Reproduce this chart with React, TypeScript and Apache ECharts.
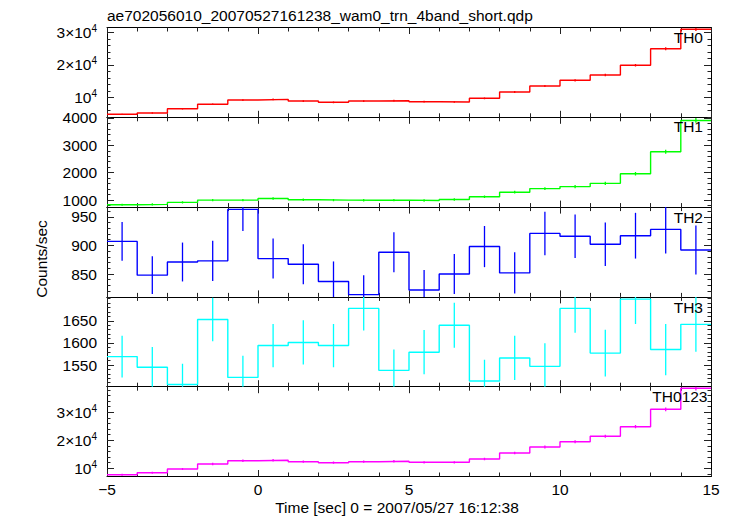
import React, { useEffect, useRef } from "react";
import * as echarts from "echarts";

// ---- data ----
const BIN_START = [-5, -4, -3, -2, -1, 0, 1, 2, 3, 4, 5, 6, 7, 8, 9, 10, 11, 12, 13, 14];
const BIN_END = 15;

const TH0 = [4770, 5170, 6490, 7850, 9170, 9380, 8860, 8460, 8860, 8950, 8650, 8550, 9690, 11630, 13480, 15230, 16860, 19850, 24950, 30920];
const TH0_ERR = [200, 210, 230, 250, 270, 270, 265, 260, 265, 265, 260, 260, 280, 300, 320, 340, 360, 390, 440, 490];
const TH1 = [831, 845, 917, 1000, 1000, 1060, 1012, 1000, 995, 1000, 988, 1024, 1120, 1288, 1420, 1492, 1612, 1960, 2764, 3905];
const TH1_ERR = [40, 40, 42, 44, 44, 45, 44, 44, 44, 44, 44, 45, 47, 50, 53, 55, 57, 62, 73, 88];
const TH2 = [907, 848, 871, 873, 963, 877, 867, 837, 814, 888, 822, 850, 898, 852, 921, 916, 902, 917, 928, 892];
const TH2_ERR = [34, 33, 34, 35, 38, 35, 35, 35, 34, 35, 35, 35, 36, 36, 38, 38, 38, 40, 42, 43];
const TH3 = [1569, 1545, 1506, 1653, 1522, 1594, 1601, 1594, 1678, 1538, 1579, 1640, 1514, 1566, 1547, 1678, 1577, 1699, 1585, 1642];
const TH3_ERR = [47, 46, 47, 49, 49, 49, 50, 49, 50, 47, 50, 51, 48, 50, 52, 55, 53, 56, 58, 62];
const TH0123 = [7710, 8430, 9750, 11540, 12710, 12860, 12360, 12000, 12360, 12500, 12140, 12140, 13320, 15460, 17600, 19500, 21430, 24860, 31070, 38570];
const TH0123_ERR = [350, 360, 380, 410, 430, 430, 420, 420, 420, 425, 420, 420, 440, 470, 500, 530, 560, 600, 680, 760];

const PANEL_NAMES = ["TH0", "TH1", "TH2", "TH3", "TH0123"];
const Y_RANGES = [
  [3850, 31480],
  [745, 4020],
  [810, 967],
  [1501, 1704],
  [7070, 39140],
];
const Y_MAJOR = [
  [10000, 20000, 30000],
  [1000, 2000, 3000, 4000],
  [850, 900, 950],
  [1550, 1600, 1650],
  [10000, 20000, 30000],
];
const Y_MINOR_STEP = [2000, 200, 10, 10, 2000];

const TITLE = "ae702056010_20070527161238_wam0_trn_4band_short.qdp";
const X_TITLE = "Time [sec] 0 = 2007/05/27 16:12:38";
const Y_TITLE = "Counts/sec";

const COLORS = ["#ff0000", "#00ff00", "#0000ff", "#00ffff", "#ff00ff"];
const VALUES = [TH0, TH1, TH2, TH3, TH0123];
const ERRORS = [TH0_ERR, TH1_ERR, TH2_ERR, TH3_ERR, TH0123_ERR];

// ---- layout ----
const LEFT = 107;
const RIGHT_X = 711;
const W = 733;
const H = 516;
const TOPS = [27.5, 117.3, 207.1, 296.9, 386.7];
const PH = 89.8;
const FONT = "'Liberation Sans', Arial, Helvetica, sans-serif";
const FS = 15.5;
const LABEL_Y = [37, 126.7, 217, 307.5, 396.7];
const LABEL_RX = [703, 703, 703, 703, 707.5];

function minorTicks(i: number): number[] {
  const [mn, mx] = Y_RANGES[i];
  const step = Y_MINOR_STEP[i];
  const out: number[] = [];
  for (let v = Math.ceil(mn / step) * step; v <= mx; v += step) {
    if (!Y_MAJOR[i].some((m) => Math.abs(m - v) < 1e-6)) out.push(v);
  }
  return out;
}

function sciFormatter(v: number): string {
  const m = Math.round(v / 10000);
  if (m === 1) return "{a|10}{b|4}";
  return "{a|" + m + "×10}{b|4}";
}

export default function App() {
  const ref = useRef<HTMLDivElement>(null);
  useEffect(() => {
    if (!ref.current) return;
    const chart = echarts.init(ref.current, undefined, { renderer: "svg" });

    const grids: any[] = [];
    const xAxes: any[] = [];
    const yAxes: any[] = [];
    const series: any[] = [];

    for (let i = 0; i < 5; i++) {
      grids.push({ left: LEFT, width: RIGHT_X - LEFT, top: TOPS[i], height: PH, containLabel: false });
      const isLast = i === 4;
      const xBase = {
        type: "value",
        gridIndex: i,
        min: -5,
        max: 15,
        interval: 5,
        splitLine: { show: false },
        axisLine: { show: true, onZero: false, lineStyle: { color: "#000", width: 1 } },
        axisTick: { show: true, inside: true, length: 6.5, lineStyle: { color: "#222", width: 1 } },
        minorTick: { show: true, splitNumber: 5, length: 4, lineStyle: { color: "#222", width: 1 } },
      };
      xAxes.push({
        ...xBase,
        position: "bottom",
        axisLabel: {
          show: isLast,
          color: "#000",
          fontFamily: FONT,
          fontSize: FS,
          margin: 5,
          showMinLabel: true,
          showMaxLabel: true,
          formatter: (v: number) => (v < 0 ? "\u2212" + Math.abs(v) : String(v)),
        },
      });
      xAxes.push({ ...xBase, position: "top", axisLabel: { show: false } });

      const [mn, mx] = Y_RANGES[i];
      const useSci = i === 0 || i === 4;
      const majors = Y_MAJOR[i];
      const minors = minorTicks(i);
      const yBase = {
        type: "value",
        gridIndex: i,
        min: mn,
        max: mx,
        splitLine: { show: false },
      };
      yAxes.push({
        ...yBase,
        position: "left",
        axisLine: { show: true, onZero: false, lineStyle: { color: "#000", width: 1 } },
        axisTick: { show: true, inside: true, length: 7, customValues: majors, lineStyle: { color: "#222", width: 1 } },
        axisLabel: {
          show: true,
          customValues: majors,
          color: "#000",
          fontFamily: FONT,
          fontSize: FS,
          margin: 10,
          formatter: useSci ? sciFormatter : (v: number) => String(v),
          rich: {
            a: { fontFamily: FONT, fontSize: FS, color: "#000", lineHeight: 18, verticalAlign: "middle" },
            b: { fontFamily: FONT, fontSize: 10, color: "#000", lineHeight: 18, verticalAlign: "top" },
          },
        },
      });
      yAxes.push({
        ...yBase,
        position: "right",
        axisLine: { show: true, onZero: false, lineStyle: { color: "#000", width: 1 } },
        axisTick: { show: true, inside: true, length: 7, customValues: majors, lineStyle: { color: "#222", width: 1 } },
        axisLabel: { show: false },
      });
      yAxes.push({
        ...yBase,
        position: "left",
        axisLine: { show: false, onZero: false },
        axisTick: { show: true, inside: true, length: 3.5, customValues: minors, lineStyle: { color: "#222", width: 1 } },
        axisLabel: { show: false },
      });
      yAxes.push({
        ...yBase,
        position: "right",
        axisLine: { show: false, onZero: false },
        axisTick: { show: true, inside: true, length: 3.5, customValues: minors, lineStyle: { color: "#222", width: 1 } },
        axisLabel: { show: false },
      });

      const vals = VALUES[i];
      const errs = ERRORS[i];
      const stepData = BIN_START.map((x, k) => [x, vals[k]]);
      stepData.push([BIN_END, vals[vals.length - 1]]);
      const color = COLORS[i];
      series.push({
        type: "line",
        name: PANEL_NAMES[i],
        xAxisIndex: 2 * i,
        yAxisIndex: 4 * i,
        data: stepData,
        step: "end",
        symbol: "none",
        clip: true,
        lineStyle: { color, width: 1.4 },
        z: 3,
      });
      series.push({
        type: "custom",
        name: PANEL_NAMES[i] + " err",
        xAxisIndex: 2 * i,
        yAxisIndex: 4 * i,
        clip: true,
        data: BIN_START.map((x, k) => [x + 0.5, vals[k], errs[k]]),
        encode: { x: 0, y: 1 },
        renderItem: (params: any, api: any) => {
          const x = api.value(0);
          const y = api.value(1);
          const e = api.value(2);
          const p1 = api.coord([x, y - e]);
          const p2 = api.coord([x, y + e]);
          return {
            type: "line",
            shape: { x1: p1[0], y1: p1[1], x2: p2[0], y2: p2[1] },
            style: { stroke: color, lineWidth: 1.3 },
          };
        },
        z: 3,
      });
    }

    const graphics: any[] = [
      {
        type: "text",
        x: 107,
        y: 15,
        style: { text: TITLE, font: `${FS}px ${FONT}`, fill: "#000", textAlign: "left", textVerticalAlign: "middle" },
      },
      {
        type: "text",
        x: 397,
        y: 507,
        style: { text: X_TITLE, font: `${FS}px ${FONT}`, fill: "#000", textAlign: "center", textVerticalAlign: "middle" },
      },
      {
        type: "text",
        x: 41,
        y: 259,
        rotation: Math.PI / 2,
        style: { text: Y_TITLE, font: `${FS}px ${FONT}`, fill: "#000", textAlign: "center", textVerticalAlign: "middle" },
      },
    ];
    for (let i = 0; i < 5; i++) {
      graphics.push({
        type: "text",
        x: LABEL_RX[i],
        y: LABEL_Y[i],
        z: 10,
        style: { text: PANEL_NAMES[i], font: `${FS}px ${FONT}`, fill: "#000", textAlign: "right", textVerticalAlign: "middle" },
      });
    }

    chart.setOption({
      animation: false,
      backgroundColor: "#fff",
      grid: grids,
      xAxis: xAxes,
      yAxis: yAxes,
      series,
      graphic: graphics,
    });
    return () => chart.dispose();
  }, []);

  return <div ref={ref} style={{ position: "absolute", left: 0, top: 0, width: W, height: H }} />;
}
